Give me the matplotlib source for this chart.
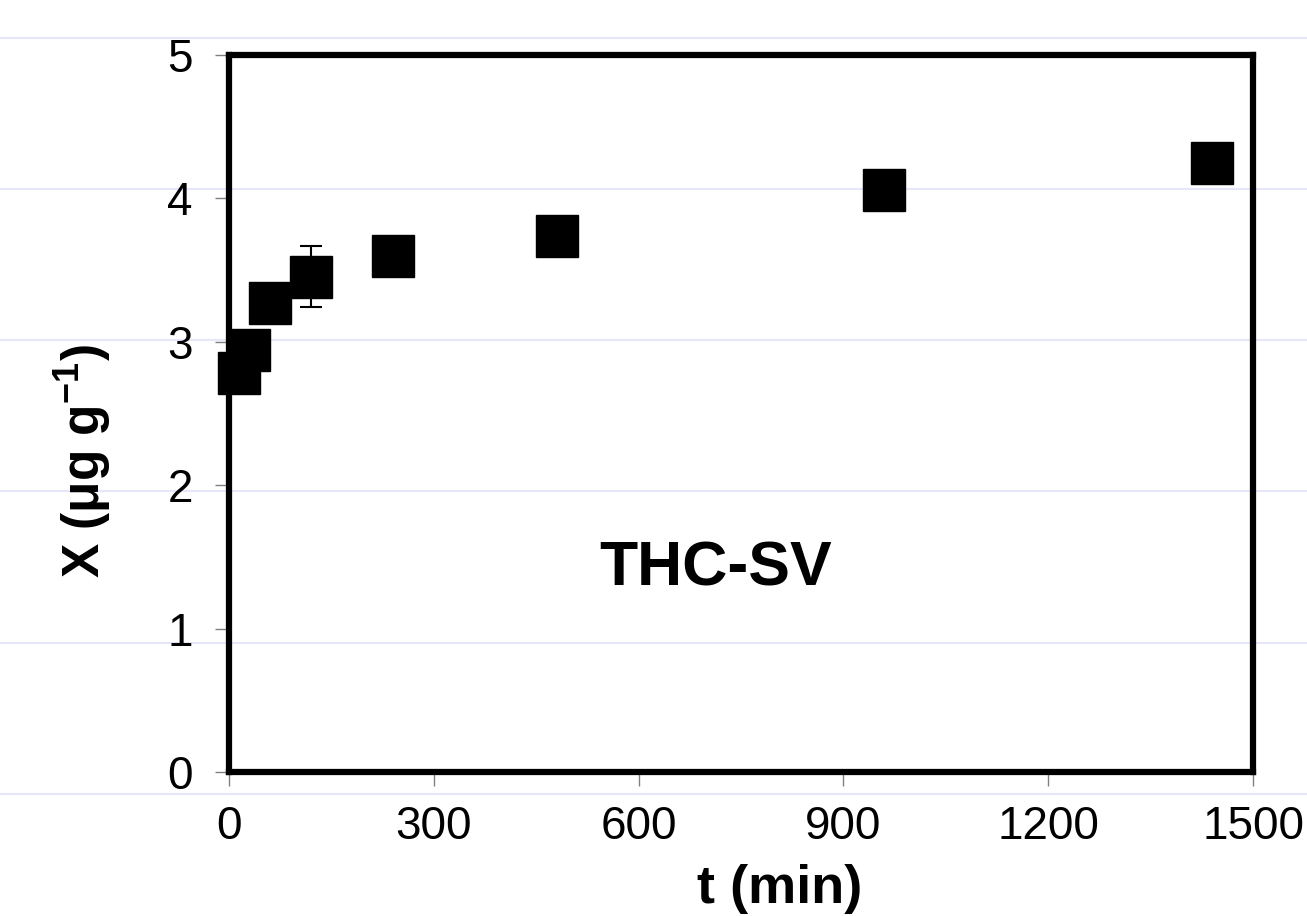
import matplotlib
matplotlib.use('Agg')
import matplotlib.pyplot as plt
from matplotlib.lines import Line2D

# data
t_min = [15, 30, 60, 120, 240, 480, 960, 1440]
x_ugg = [2.78, 2.94, 3.27, 3.455, 3.595, 3.74, 4.06, 4.25]
x_err = [0, 0, 0, 0.215, 0, 0, 0, 0]
xticks = [0, 300, 600, 900, 1200, 1500]
yticks = [0, 1, 2, 3, 4, 5]

plt.rcParams['font.family'] = ['Liberation Sans', 'DejaVu Sans']
plt.rcParams['mathtext.fontset'] = 'custom'
plt.rcParams['mathtext.rm'] = 'Liberation Sans'
plt.rcParams['mathtext.bf'] = 'Liberation Sans:bold'

fig = plt.figure(figsize=(13.07, 9.16), dpi=100)

# faint ruled lines behind the whole picture
for ypx in [38, 189, 340, 491, 643, 794]:
    fig.add_artist(Line2D([0, 1], [1 - ypx / 916, 1 - ypx / 916],
                          transform=fig.transFigure, color='#e6e6fb',
                          lw=1.5, zorder=-10))

ax = fig.add_axes([229 / 1307, 1 - 772 / 916, (1253 - 229) / 1307, (772 - 55) / 916])
ax.patch.set_alpha(0)

ax.errorbar(t_min, x_ugg, yerr=x_err, fmt='none', ecolor='black',
            elinewidth=1.5, capsize=8, capthick=1.5, zorder=2)
ax.plot(t_min, x_ugg, 's', color='black', markersize=30, zorder=3,
        clip_on=False)

ax.set_xlim(0, 1500)
ax.set_ylim(0, 5)
ax.set_xticks(xticks)
ax.set_yticks(yticks)

for s in ax.spines.values():
    s.set_linewidth(4.5)
    s.set_color('black')

ax.tick_params(axis='both', direction='out', length=10, width=1,
               color='#808080', labelsize=33)
ax.tick_params(axis='y', pad=16)
ax.tick_params(axis='x', pad=14)

ax.set_xlabel('t (min)', fontsize=39, fontweight='bold')
ax.xaxis.set_label_coords(0.538, -0.128)
ax.set_ylabel('X (μg g$^{\\mathbf{-1}}$)', fontsize=37, fontweight='bold')
ax.yaxis.set_label_coords(-0.112, 0.434)

ax.text(0.4756, 0.283, 'THC-SV', transform=ax.transAxes, fontsize=45,
        fontweight='bold', ha='center', va='center')

fig.savefig('out.png', dpi=100)
